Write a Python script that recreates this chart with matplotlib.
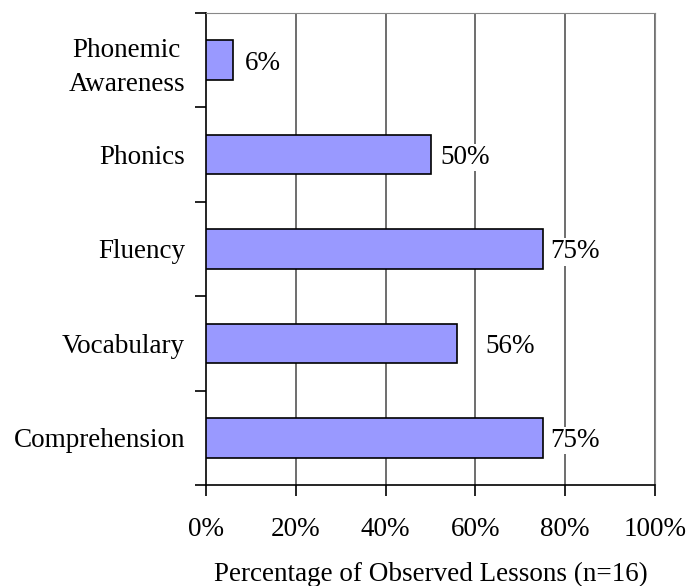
import matplotlib.pyplot as plt
import numpy as np

categories = ['Comprehension', 'Vocabulary', 'Fluency', 'Phonics', 'Phonemic\nAwareness']
values = [75, 56, 75, 50, 6]
labels = ['75%', '56%', '75%', '50%', '6%']
label_gap = [1.7, 6.2, 1.7, 2.3, 2.6]   # how far each label sits from its bar end
xticks = [0, 20, 40, 60, 80, 100]

plt.rcParams['font.family'] = ['Liberation Serif', 'DejaVu Serif']

fig = plt.figure(figsize=(6.88, 5.86), dpi=100)
ax = fig.add_axes([206/688, 1-485/586, 449/688, 472/586])

y = np.arange(len(categories))
ax.barh(y, values, height=0.42, color='#9999FF', edgecolor='black', linewidth=1.2, zorder=3)

for yi, v, lab, g in zip(y, values, labels, label_gap):
    ax.text(v + g, yi - 0.03, lab, va='center', ha='left', fontsize=19.5, zorder=4,
            bbox=dict(facecolor='white', edgecolor='none', pad=1))

ax.set_xlim(0, 100)
ax.set_ylim(-0.5, len(categories) - 0.5)

ax.set_xticks(xticks)
ax.set_xticklabels([f'{t}%' for t in xticks], fontsize=19.5)
for t in xticks[1:]:
    ax.axvline(t, color='#555555', linewidth=1.2, zorder=1)

ax.set_yticks(y)
ax.set_yticklabels(categories, fontsize=19.5, multialignment='center', linespacing=1.45)
ax.set_yticks(np.arange(-0.5, len(categories)), minor=True)
ax.tick_params(axis='y', which='major', length=0, pad=15)
ax.tick_params(axis='y', which='minor', length=8, width=1.2, direction='out')
ax.tick_params(axis='x', length=8, width=1.2, direction='out', pad=15)

ax.spines['top'].set_color('#888888')
ax.spines['right'].set_color('#888888')
ax.spines['left'].set_linewidth(1.2)
ax.spines['bottom'].set_linewidth(1.2)

ax.set_xlabel('Percentage of Observed Lessons (n=16)', fontsize=19.5, va='center')
ax.xaxis.set_label_coords(0.5, (485 - 574) / 472)

fig.savefig('out.png', dpi=100)
